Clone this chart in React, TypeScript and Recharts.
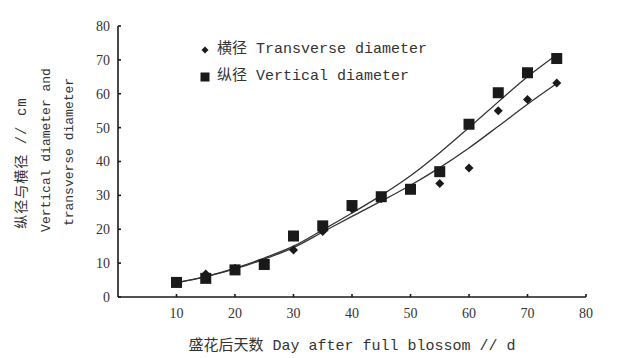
import React from 'react';
import {
  ComposedChart, Scatter, Line, XAxis, YAxis, Label,
} from 'recharts';

// 盛花后天数 (d)
const days = [10, 15, 20, 25, 30, 35, 40, 45, 50, 55, 60, 65, 70, 75];

// measured points, cm
const transverse = [4.5, 6.8, 8.5, 10, 13.9, 19.3, 26, 29, 32, 33.5, 38.1, 55, 58.3, 63.2];
const vertical = [4.3, 5.5, 8, 9.6, 18, 21, 27, 29.6, 31.8, 37, 51, 60.3, 66.2, 70.4];

// trend lines
const transverseFit = [4.2, 6, 8.3, 11.2, 14.6, 19.2, 23.8, 28.3, 33, 38.2, 44, 50.4, 56.9, 63];
const verticalFit = [4.2, 6, 8.5, 11.5, 15, 19.8, 24.8, 30, 35.8, 42.6, 50, 57.6, 65, 71.5];

const xTicks = [10, 20, 30, 40, 50, 60, 70, 80];
const yTicks = [0, 10, 20, 30, 40, 50, 60, 70, 80];

const fitRows = days.map((d, i) => ({ day: d, tFit: transverseFit[i], vFit: verticalFit[i] }));
const tPoints = days.map((d, i) => ({ day: d, value: transverse[i] }));
const vPoints = days.map((d, i) => ({ day: d, value: vertical[i] }));

const INK = '#1a1a1a';
const MONO = '"Liberation Mono", "Noto Sans CJK SC", monospace';
const SERIF = '"Liberation Serif", serif';

const Diamond = (props: any) => {
  const { cx, cy } = props;
  const r = 4.5;
  return <path d={`M${cx},${cy - r}L${cx + r},${cy}L${cx},${cy + r}L${cx - r},${cy}Z`} fill={INK} />;
};

const Square = (props: any) => {
  const { cx, cy } = props;
  return <rect x={cx - 5.5} y={cy - 5.5} width={11} height={11} fill={INK} />;
};

// legend sits inside the plot, top left
const LegendBox = () => (
  <div
    style={{
      position: 'absolute', left: 199, top: 36,
      fontFamily: MONO, fontSize: 15, color: '#333', lineHeight: '27px',
    }}
  >
    <div style={{ display: 'flex', alignItems: 'center' }}>
      <svg width={12} height={12} style={{ marginRight: 6 }}>
        <path d="M6,2.5L9.5,6L6,9.5L2.5,6Z" fill={INK} />
      </svg>
      横径 Transverse diameter
    </div>
    <div style={{ display: 'flex', alignItems: 'center' }}>
      <svg width={12} height={12} style={{ marginRight: 6 }}>
        <rect x={1.5} y={1.5} width={9} height={9} fill={INK} />
      </svg>
      纵径 Vertical diameter
    </div>
  </div>
);

const YTitle = () => (
  <g fontFamily={MONO} fontSize={13} fill="#333" textAnchor="middle">
    <text transform="translate(22,163) rotate(-90)" dominantBaseline="central" fontSize={14} letterSpacing={1}>
      纵径与横径 // cm
    </text>
    <text transform="translate(46,150) rotate(-90)" dominantBaseline="central">Vertical diameter and</text>
    <text transform="translate(69,152) rotate(-90)" dominantBaseline="central">transverse diameter</text>
  </g>
);

export default function App() {
  return (
    <div style={{ position: 'absolute', left: 0, top: 0, width: 618, height: 358, background: '#fff' }}>
      <ComposedChart
        width={618}
        height={358}
        data={fitRows}
        margin={{ top: 26, right: 32, left: 0, bottom: 31 }}
      >
        <XAxis
          dataKey="day"
          type="number"
          domain={[0, 80]}
          ticks={xTicks}
          height={30}
          stroke={INK}
          strokeWidth={1.6}
          tickSize={-3}
          tickMargin={14}
          tick={{ fontSize: 14, fill: '#333', fontFamily: SERIF }}
        >
          <Label
            value="盛花后天数 Day after full blossom // d"
            position="bottom"
            offset={12}
            style={{ fontFamily: MONO, fontSize: 15, fill: '#333' }}
          />
        </XAxis>
        <YAxis
          type="number"
          domain={[0, 80]}
          ticks={yTicks}
          width={118}
          stroke={INK}
          strokeWidth={1.6}
          tickSize={-3}
          tickMargin={11}
          tick={{ fontSize: 14, fill: '#333', fontFamily: SERIF }}
        >
          <Label content={() => <YTitle />} />
        </YAxis>
        <Line
          dataKey="vFit"
          type="monotone"
          stroke="#333"
          strokeWidth={1.3}
          dot={false}
          isAnimationActive={false}
        />
        <Line
          dataKey="tFit"
          type="monotone"
          stroke="#333"
          strokeWidth={1.3}
          dot={false}
          isAnimationActive={false}
        />
        <Scatter data={vPoints} dataKey="value" shape={Square} isAnimationActive={false} />
        <Scatter data={tPoints} dataKey="value" shape={Diamond} isAnimationActive={false} />
      </ComposedChart>
      <LegendBox />
    </div>
  );
}
